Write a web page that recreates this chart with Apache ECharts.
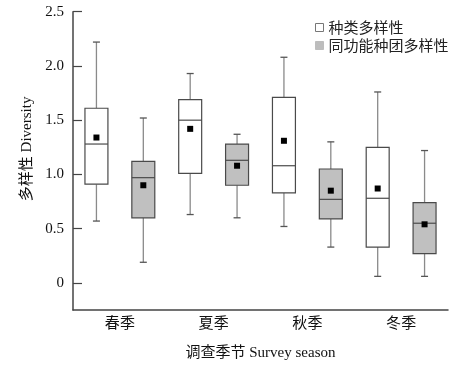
<!DOCTYPE html>
<html><head><meta charset="utf-8">
<script src="https://cdn.jsdelivr.net/npm/echarts@6/dist/echarts.min.js"></script>
<style>html,body{margin:0;padding:0;background:#fff}#c{width:472px;height:366px}</style>
</head><body><div id="c"></div>
<script>
const seasons = ['春季', '夏季', '秋季', '冬季'];
const yTickValues = [0, 0.5, 1.0, 1.5, 2.0, 2.5];
const yTickLabels = ['0', '0.5', '1.0', '1.5', '2.0', '2.5'];
const seriesNames = ['种类多样性', '同功能种团多样性'];
// [min, Q1, median, Q3, max, mean]
const speciesDiversity = [
  [0.57, 0.91, 1.28, 1.61, 2.22, 1.34],
  [0.63, 1.01, 1.50, 1.69, 1.93, 1.42],
  [0.52, 0.83, 1.08, 1.71, 2.08, 1.31],
  [0.06, 0.33, 0.78, 1.25, 1.76, 0.87]
];
const guildDiversity = [
  [0.19, 0.60, 0.97, 1.12, 1.52, 0.90],
  [0.60, 0.90, 1.13, 1.28, 1.37, 1.08],
  [0.33, 0.59, 0.77, 1.05, 1.30, 0.85],
  [0.06, 0.27, 0.55, 0.74, 1.22, 0.54]
];

const serif = "'Liberation Serif','Noto Sans CJK SC'";
const chart = echarts.init(document.getElementById('c'), null, {renderer: 'canvas'});

function makeRender(offsetFrac, fill) {
  return function (params, api) {
    const i = api.value(0);
    const band = api.size([1, 0])[0];
    const cx = api.coord([i, 0])[0] + offsetFrac * band;
    const w = band * 0.245;
    const y = k => api.coord([i, api.value(k)])[1];
    const yMin = y(1), yQ1 = y(2), yMed = y(3), yQ3 = y(4), yMax = y(5), yMean = y(6);
    const cap = 3.5;
    const wStyle = {stroke: '#8a8a8a', lineWidth: 1.3};
    const bStyle = {stroke: '#4a4a4a', lineWidth: 1.2};
    return {
      type: 'group',
      children: [
        {type: 'line', shape: {x1: cx, y1: yQ3, x2: cx, y2: yMax}, style: wStyle},
        {type: 'line', shape: {x1: cx - cap, y1: yMax, x2: cx + cap, y2: yMax}, style: {stroke: '#555', lineWidth: 1.3}},
        {type: 'line', shape: {x1: cx, y1: yQ1, x2: cx, y2: yMin}, style: wStyle},
        {type: 'line', shape: {x1: cx - cap, y1: yMin, x2: cx + cap, y2: yMin}, style: {stroke: '#555', lineWidth: 1.3}},
        {type: 'rect', shape: {x: cx - w / 2, y: yQ3, width: w, height: yQ1 - yQ3}, style: {fill: fill, stroke: '#4a4a4a', lineWidth: 1.2}},
        {type: 'line', shape: {x1: cx - w / 2, y1: yMed, x2: cx + w / 2, y2: yMed}, style: bStyle},
        {type: 'rect', shape: {x: cx - 3, y: yMean - 3, width: 6, height: 6}, style: {fill: '#000'}}
      ]
    };
  };
}

function toData(arr) {
  return arr.map((d, i) => [i].concat(d));
}

chart.setOption({
  animation: false,
  grid: {left: 73, right: 24, top: 11.7, bottom: 50},
  legend: {
    orient: 'vertical', left: 310, top: 15, itemWidth: 8, itemHeight: 8, itemGap: 3,
    icon: 'rect',
    textStyle: {fontSize: 15, fontFamily: "'Noto Sans CJK SC'", color: '#222', padding: [0, 0, 0, 0]},
    data: [
      {name: seriesNames[0], itemStyle: {color: '#fff', borderColor: '#777', borderWidth: 1}},
      {name: seriesNames[1], itemStyle: {color: '#bdbdbd', borderColor: '#bdbdbd', borderWidth: 1}}
    ]
  },
  xAxis: {
    type: 'category', data: seasons, boundaryGap: true,
    axisLine: {onZero: false, lineStyle: {color: '#444', width: 1.5}},
    axisTick: {inside: true, length: 6, lineStyle: {color: '#444', width: 1.2}},
    axisLabel: {fontSize: 15, fontFamily: serif, color: '#111', margin: 7},
    splitLine: {show: false},
    name: '调查季节 Survey season', nameLocation: 'middle', nameGap: 36,
    nameTextStyle: {fontSize: 15, fontFamily: serif, color: '#111'}
  },
  yAxis: {
    type: 'value', min: -0.25, max: 2.5,
    axisLine: {show: true, onZero: false, lineStyle: {color: '#444', width: 1.5}},
    axisTick: {show: true, inside: true, length: 9, customValues: yTickValues, lineStyle: {color: '#444', width: 1.2}},
    axisLabel: {
      fontSize: 15, fontFamily: serif, color: '#111', margin: 9, customValues: yTickValues,
      formatter: v => yTickLabels[yTickValues.indexOf(Math.round(v * 10) / 10)]
    },
    splitLine: {show: false},
    name: '多样性 Diversity', nameLocation: 'middle', nameGap: 36, nameRotate: 90,
    nameTextStyle: {fontSize: 15, fontFamily: serif, color: '#111', padding: [0, 0, 0, 24]}
  },
  series: [
    {
      name: seriesNames[0], type: 'custom', renderItem: makeRender(-0.25, '#ffffff'),
      itemStyle: {color: '#fff', borderColor: '#777', borderWidth: 1},
      encode: {x: 0, y: [1, 2, 3, 4, 5, 6]},
      data: toData(speciesDiversity)
    },
    {
      name: seriesNames[1], type: 'custom', renderItem: makeRender(0.25, '#c0c0c0'),
      itemStyle: {color: '#bdbdbd'},
      encode: {x: 0, y: [1, 2, 3, 4, 5, 6]},
      data: toData(guildDiversity)
    }
  ]
});
</script></body></html>
